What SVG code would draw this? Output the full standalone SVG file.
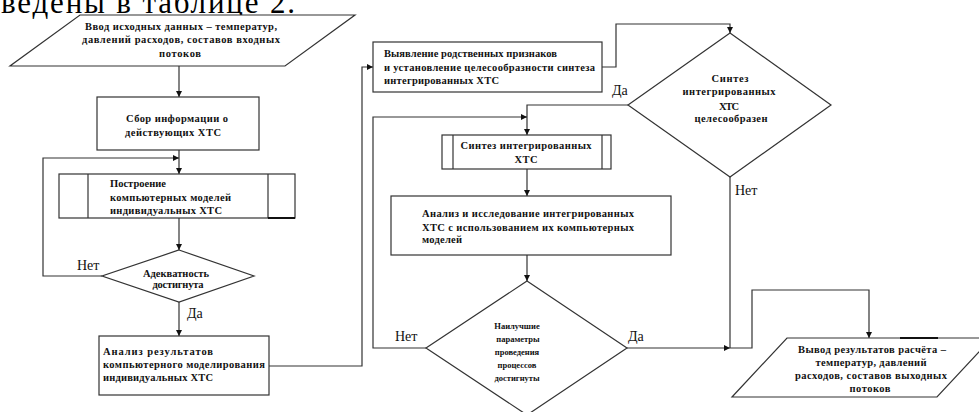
<svg xmlns="http://www.w3.org/2000/svg" width="979" height="412" viewBox="0 0 979 412">
<style>
.shape{fill:#fff;stroke:#333;stroke-width:1.2}
.conn{fill:none;stroke:#333;stroke-width:1.2}
.t{font-family:"Liberation Serif","Times New Roman","DejaVu Serif",serif;font-weight:bold;font-size:10.5px;fill:#111}
.s{font-size:8.5px}
.c{text-anchor:middle}
.lbl{font-family:"Liberation Serif","Times New Roman","DejaVu Serif",serif;font-size:14px;fill:#111}
</style>
<defs>
<marker id="arr" markerUnits="userSpaceOnUse" markerWidth="7" markerHeight="7" refX="6" refY="3" orient="auto">
<path d="M0,0 L6,3 L0,6 z" fill="#111"/>
</marker>
</defs>
<rect width="979" height="412" fill="#fff"/>
<text x="1" y="13" font-family="'Liberation Serif','Times New Roman',serif" font-size="31" fill="#000" textLength="294" lengthAdjust="spacing">ведены в таблице 2.</text>

<g id="connectors">
<path class="conn" d="M179,66 V97" marker-end="url(#arr)"/>
<path class="conn" d="M179,150 V174" marker-end="url(#arr)"/>
<path class="conn" d="M102,276 H43 V158 H179" marker-end="url(#arr)"/>
<path class="conn" d="M179,218 V250" marker-end="url(#arr)"/>
<path class="conn" d="M179,302 V336" marker-end="url(#arr)"/>
<path class="conn" d="M269,366 H362 V67 H373" marker-end="url(#arr)"/>
<path class="conn" d="M602,67 H616 V24 H730 V33" marker-end="url(#arr)"/>
<path class="conn" d="M628,105 H527 V135" marker-end="url(#arr)"/>
<path class="conn" d="M426,348 H373 V117 H527" marker-end="url(#arr)"/>
<path class="conn" d="M527,169 V196" marker-end="url(#arr)"/>
<path class="conn" d="M527,255 V281" marker-end="url(#arr)"/>
<path class="conn" d="M627,348 H730" marker-end="url(#arr)"/>
<path class="conn" d="M730,177 V348"/>
<path class="conn" d="M730,348 H752 V290 H869 V338" marker-end="url(#arr)"/>
<text class="lbl" x="77" y="270">Нет</text>
<text class="lbl" x="187" y="318">Да</text>
<text class="lbl" x="612" y="95">Да</text>
<text class="lbl" x="735" y="195">Нет</text>
<text class="lbl" x="395" y="341">Нет</text>
<text class="lbl" x="628" y="341">Да</text>
</g>

<g id="input">
<polygon class="shape" points="80,15 355,15 285,66 10,66"/>
<text class="t c" x="181" y="30" textLength="192" lengthAdjust="spacing">Ввод исходных данных – температур,</text>
<text class="t c" x="181" y="43" textLength="198" lengthAdjust="spacing">давлений расходов, составов  входных</text>
<text class="t c" x="180" y="57" textLength="42" lengthAdjust="spacing">потоков</text>
</g>

<g id="collect">
<rect class="shape" x="97" y="97" width="162" height="53"/>
<text class="t c" x="177" y="122" textLength="102" lengthAdjust="spacing">Сбор информации о</text>
<text class="t c" x="173" y="136" textLength="96" lengthAdjust="spacing">действующих ХТС</text>
</g>

<g id="build-models">
<rect class="shape" x="59" y="174" width="236" height="44"/>
<line class="conn" x1="88" y1="174" x2="88" y2="218"/>
<line class="conn" x1="268" y1="174" x2="268" y2="218"/>
<line x1="268" y1="218" x2="295" y2="218" stroke="#111" stroke-width="2"/>
<text class="t" x="110" y="187" textLength="56" lengthAdjust="spacing">Построение</text>
<text class="t" x="110" y="201" textLength="121" lengthAdjust="spacing">компьютерных моделей</text>
<text class="t" x="110" y="214" textLength="112" lengthAdjust="spacing">индивидуальных ХТС</text>
</g>

<g id="adequacy">
<polygon class="shape" points="179,250 254,276 179,302 102,276"/>
<text class="t c" x="176" y="277" textLength="66" lengthAdjust="spacing">Адекватность</text>
<text class="t c" x="178" y="288" textLength="51" lengthAdjust="spacing">достигнута</text>
</g>

<g id="analysis-individual">
<rect class="shape" x="99" y="336" width="170" height="59"/>
<text class="t" x="103" y="355" textLength="110" lengthAdjust="spacing">Анализ результатов</text>
<text class="t" x="103" y="368" textLength="162" lengthAdjust="spacing">компьютерного моделирования</text>
<text class="t" x="103" y="381" textLength="110" lengthAdjust="spacing">индивидуальных ХТС</text>
</g>

<g id="identify">
<rect class="shape" x="373" y="42" width="229" height="50"/>
<text class="t" x="384" y="57" textLength="173" lengthAdjust="spacing">Выявление родственных признаков</text>
<text class="t" x="384" y="71" textLength="211" lengthAdjust="spacing">и установление целесообразности синтеза</text>
<text class="t" x="384" y="84" textLength="115" lengthAdjust="spacing">интегрированных ХТС</text>
</g>

<g id="synthesis-feasible">
<polygon class="shape" points="730,33 831,105 730,177 628,105"/>
<text class="t c" x="730" y="82" textLength="37" lengthAdjust="spacing">Синтез</text>
<text class="t c" x="729" y="95" textLength="93" lengthAdjust="spacing">интегрированных</text>
<text class="t c" x="729" y="110" textLength="20" lengthAdjust="spacing">ХТС</text>
<text class="t c" x="731" y="122" textLength="73" lengthAdjust="spacing">целесообразен</text>
</g>

<g id="synthesis">
<rect class="shape" x="442" y="135" width="169" height="34"/>
<line class="conn" x1="453" y1="135" x2="453" y2="169"/>
<line class="conn" x1="602" y1="135" x2="602" y2="169"/>
<text class="t c" x="526" y="149" textLength="131" lengthAdjust="spacing">Синтез интегрированных</text>
<text class="t c" x="526" y="163" textLength="23" lengthAdjust="spacing">ХТС</text>
</g>

<g id="analysis-integrated">
<rect class="shape" x="391" y="196" width="280" height="59"/>
<text class="t" x="422" y="217" textLength="212" lengthAdjust="spacing">Анализ и исследование интегрированных</text>
<text class="t" x="422" y="231" textLength="212" lengthAdjust="spacing">ХТС с использованием их компьютерных</text>
<text class="t" x="422" y="243" textLength="40" lengthAdjust="spacing">моделей</text>
</g>

<g id="best-params">
<polygon class="shape" points="527,281 627,348 527,415 426,348"/>
<text class="t s c" x="517" y="329">Наилучшие</text>
<text class="t s c" x="518" y="342">параметры</text>
<text class="t s c" x="517" y="355">проведения</text>
<text class="t s c" x="517" y="368">процессов</text>
<text class="t s c" x="517" y="381">достигнуты</text>
</g>

<g id="output">
<polygon class="shape" points="787,338 992,338 937,397 732,397"/>
<line x1="900" y1="338" x2="938" y2="338" stroke="#111" stroke-width="2"/>
<text class="t c" x="872" y="353" textLength="148" lengthAdjust="spacing">Вывод результатов расчёта –</text>
<text class="t c" x="871" y="366" textLength="111" lengthAdjust="spacing">температур, давлений</text>
<text class="t c" x="871" y="379" textLength="152" lengthAdjust="spacing">расходов, составов  выходных</text>
<text class="t c" x="870" y="392" textLength="41" lengthAdjust="spacing">потоков</text>
</g>
</svg>
